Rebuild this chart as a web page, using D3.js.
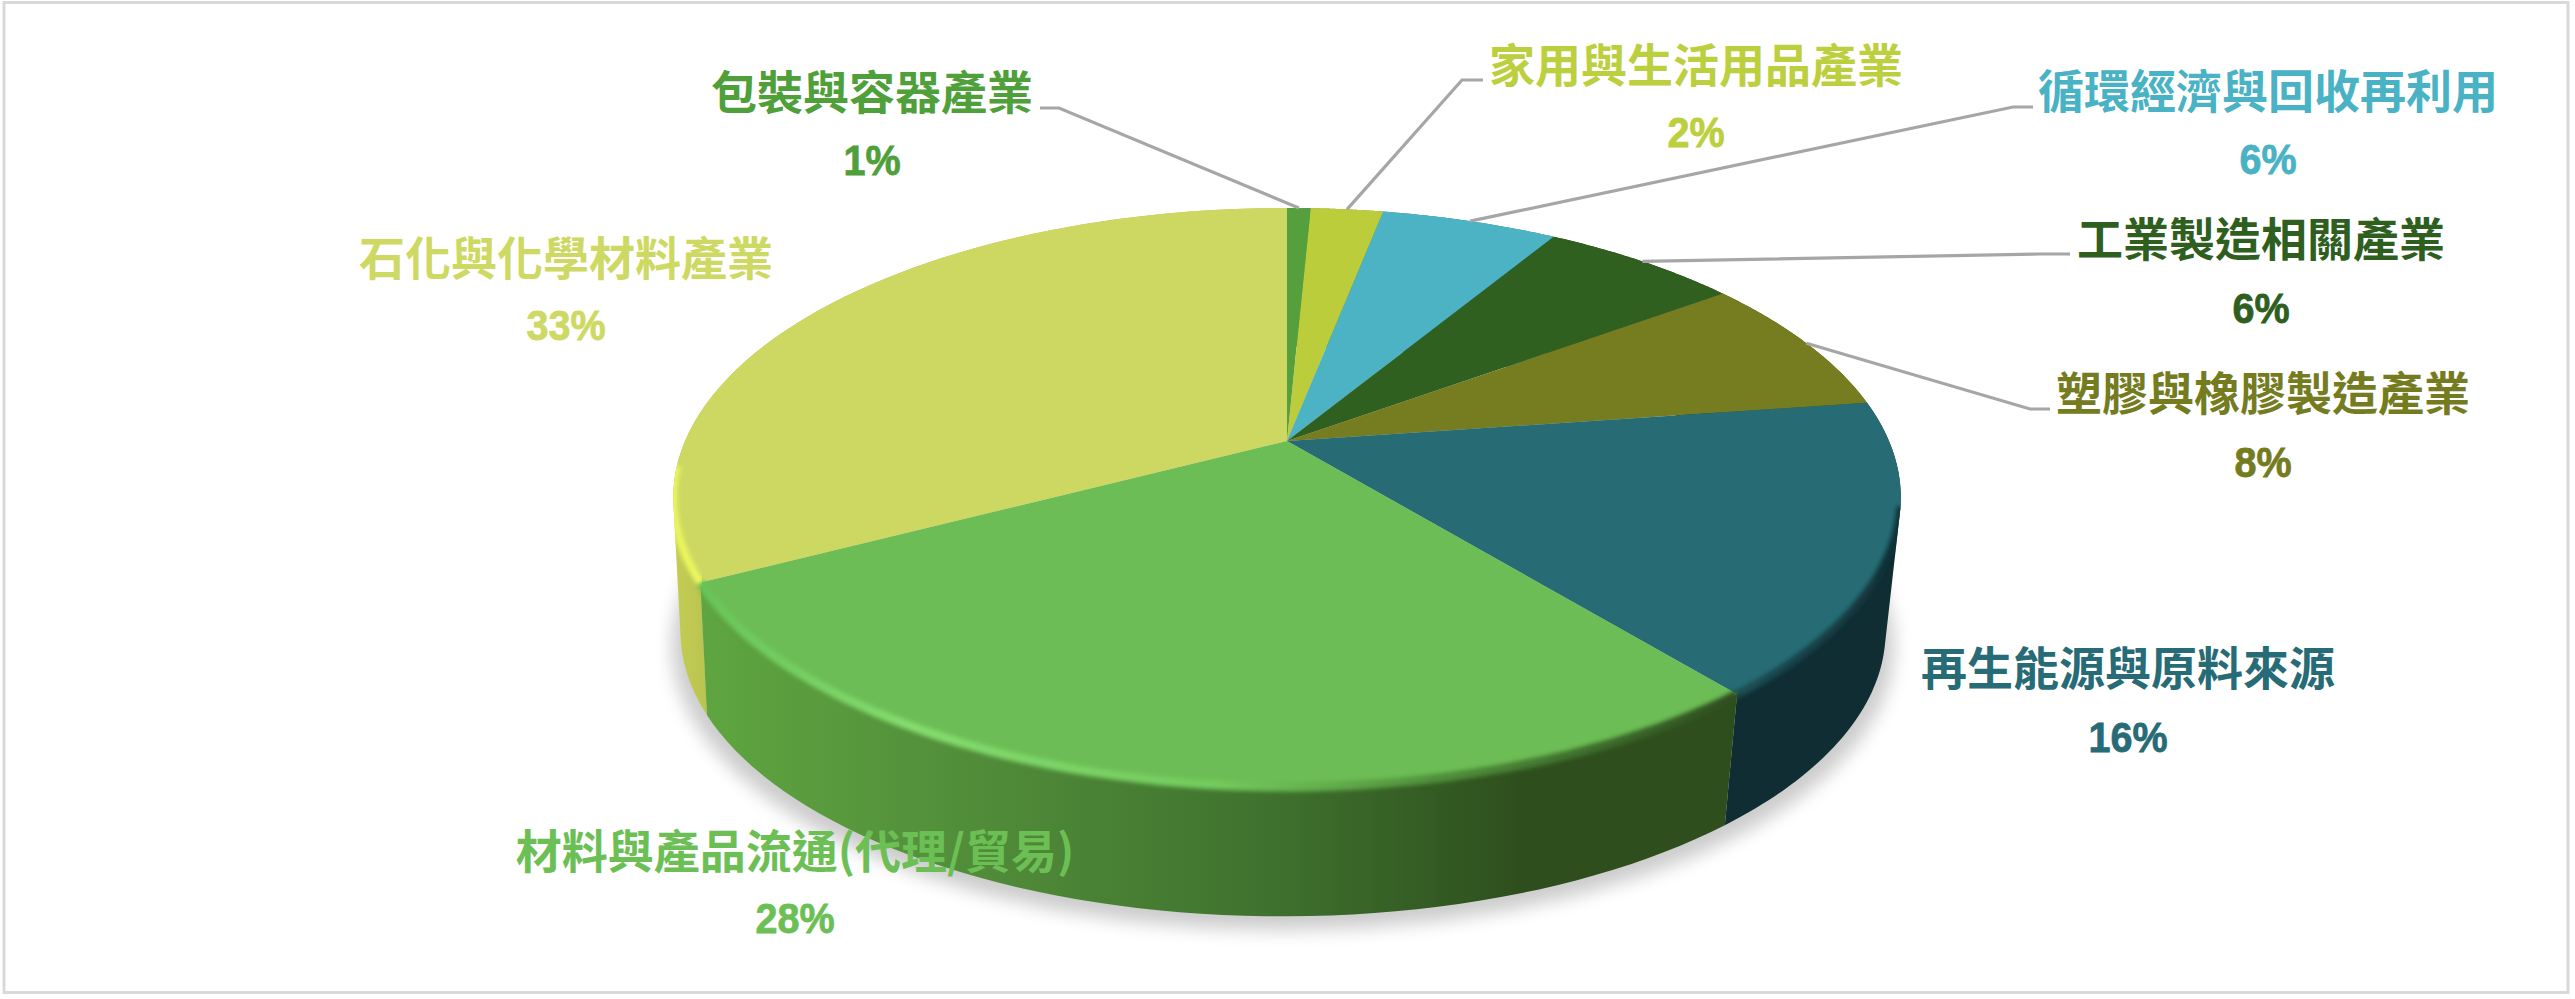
<!DOCTYPE html>
<html lang="zh-Hant"><head><meta charset="utf-8">
<script src="https://cdn.jsdelivr.net/npm/d3@7/dist/d3.min.js"></script>
<style>html,body{margin:0;background:#fff}svg{display:block}</style></head>
<body><svg id="c" width="2575" height="999"></svg>
<script>
// ---- data ----
const categories = ["包裝與容器產業","家用與生活用品產業","循環經濟與回收再利用","工業製造相關產業","塑膠與橡膠製造產業","再生能源與原料來源","材料與產品流通(代理/貿易)","石化與化學材料產業"];
const shares = [0.75,2.3,5.6,6.3,7.8,16.3,28.3,32.65];
// ---- styling ----
const topColors = ["#559f3c","#bccd3c","#4bb3c3","#30601f","#767c20","#276c75","#6cbd55","#cdd862"];
const labelColors = ["#4f9f3a","#bccf3e","#49b2c4","#2f5f1f","#757c1f","#276b76","#6cbf55","#cdd963"];
const wallFills = ["#3c7029","#8c982c","#2f7f8c","#1e3f14","#4e5214","url(#wallTeal)","url(#wallGreen)","url(#wallYellow)"];
// label centres: [x, name centre y, percent centre y]
const labelPos = [[872,92,160],[1696,65,132],[2268,91,159],[2261,239,308],[2263,393,462],[2128,668,737],[795,851,918],[566,258,325]];
// leader elbows: [text end x, elbow x, y], null = no leader
const leaders = [[1040,1059,108],[1483,1462,80],[2033,2013,107],[2070,2040,254],[2050,2030,409],null,null,null];

const svg = d3.select("#c");
const pie = d3.pie().sort(null).value(d=>d).startAngle(0).endAngle(2*Math.PI);
const arcs = pie(shares);

// perspective disc planes: top face and bottom face
const K = 0.195;
const topPlane = {cx:1287, cy:441, f:602, g:278.5};
const botPlane = {cx:1283, cy:576, f:591, g:274};
function project(p, a){
  const u = Math.sin(a), v = -Math.cos(a), w = 1 - K*v;
  return [p.cx + p.f*u/w, p.cy + p.g*v/w];
}
const samples = (a0,a1,n=60)=>d3.range(0,n+1).map(i=>a0+(a1-a0)*i/n);
const line = d3.line();
const rad = deg=>deg*Math.PI/180;

const defs = svg.append("defs");
function hGrad(id,stops,x1,x2){
  const g = defs.append("linearGradient").attr("id",id).attr("gradientUnits","userSpaceOnUse")
    .attr("x1",x1).attr("x2",x2).attr("y1",0).attr("y2",0);
  stops.forEach(s=>g.append("stop").attr("offset",s[0]).attr("stop-color",s[1]));
}
hGrad("wallGreen",[[0,"#5ea540"],[0.25,"#528e3a"],[0.55,"#3f722e"],[0.8,"#2e4f1d"],[1,"#2e4f1d"]],705,1725);
hGrad("wallTeal",[[0,"#0f2d33"],[1,"#0f2d33"]],1720,1900);
hGrad("wallYellow",[[0,"#c4ce55"],[1,"#b6c04e"]],673,715);
hGrad("rimGreen",[[0,"#68c557"],[0.2,"#84dc6e"],[0.5,"#74cb5d"],[0.72,"#4f8f3a"],[1,"#2f5020"]],705,1725);
hGrad("rimTeal",[[0,"#1c4f57"],[1,"#103036"]],1726,1900);
hGrad("rimYellow",[[0,"#eaf65e"],[1,"#eaf65e"]],673,705);
defs.append("filter").attr("id","shadow").attr("x","-10%").attr("y","-10%").attr("width","120%").attr("height","130%")
  .append("feGaussianBlur").attr("stdDeviation",9);
defs.append("filter").attr("id","soft").attr("x","-5%").attr("y","-5%").attr("width","110%").attr("height","110%")
  .append("feGaussianBlur").attr("stdDeviation",2);

// silhouette of the whole disc, used to keep the bevels inside it
const allPts = samples(0,2*Math.PI,240).flatMap(a=>[project(topPlane,a),project(botPlane,a)]);
defs.append("clipPath").attr("id","hull").append("path").attr("d",line(d3.polygonHull(allPts))+"Z");

// frame
svg.append("rect").attr("x",4).attr("y",2.5).attr("width",2564).attr("height",990)
  .attr("fill","#fff").attr("stroke","#d9d9d9").attr("stroke-width",3);

// soft ground shadow
svg.append("path")
  .attr("d",line(samples(0,2*Math.PI).map(a=>{const q=project(botPlane,a);return [botPlane.cx+(q[0]-botPlane.cx)*1.015,q[1]+14];}))+"Z")
  .attr("fill","#000").attr("opacity",0.2).attr("filter","url(#shadow)");

// side walls: one consistently wound quad per step so nothing cancels at the fold
function wallPath(d){
  const s = samples(d.startAngle,d.endAngle);
  let out = "";
  for(let i=0;i<s.length-1;i++){
    const q=[project(topPlane,s[i]),project(topPlane,s[i+1]),project(botPlane,s[i+1]),project(botPlane,s[i])];
    if(d3.polygonArea(q)<0) q.reverse();
    out += line(q)+"Z";
  }
  return out;
}
const wallOrder = [7,0,1,2,3,4,5,6];
svg.append("g").selectAll("path").data(wallOrder).join("path")
  .attr("d",i=>wallPath(arcs[i]))
  .attr("fill",i=>wallFills[i]);

// top faces
svg.append("g").selectAll("path").data(arcs).join("path")
  .attr("d",d=>line([[topPlane.cx,topPlane.cy]].concat(samples(d.startAngle,d.endAngle).map(a=>project(topPlane,a))))+"Z")
  .attr("fill",(d,i)=>topColors[i]);

// bevel highlights on the front rims
const rims = [
  {a0:rad(103),a1:arcs[5].endAngle,stroke:"url(#rimTeal)",w:8},
  {a0:arcs[6].startAngle,a1:arcs[6].endAngle,stroke:"url(#rimGreen)",w:9},
  {a0:arcs[7].startAngle,a1:rad(265),stroke:"url(#rimYellow)",w:8}];
svg.append("g").attr("clip-path","url(#hull)").selectAll("path").data(rims).join("path")
  .attr("d",r=>line(samples(r.a0,r.a1).map(a=>project(topPlane,a))))
  .attr("fill","none").attr("stroke",r=>r.stroke).attr("stroke-width",r=>r.w).attr("filter","url(#soft)");

// leaders, anchored on each slice's mid-angle
svg.append("g").selectAll("path").data(arcs.map((d,i)=>({d,l:leaders[i]})).filter(o=>o.l)).join("path")
  .attr("d",o=>line([[o.l[0],o.l[2]],[o.l[1],o.l[2]],project(topPlane,(o.d.startAngle+o.d.endAngle)/2)]))
  .attr("fill","none").attr("stroke","#a6a6a6").attr("stroke-width",3.2);

// labels
const pct = d3.format(".0f");
const lab = svg.append("g").selectAll("g").data(categories).join("g").attr("fill",(d,i)=>labelColors[i]).attr("text-anchor","middle");
lab.append("text").attr("x",(d,i)=>labelPos[i][0]).attr("y",(d,i)=>labelPos[i][1]).attr("dy","0.36em")
  .attr("font-family","'Noto Sans CJK TC','Noto Sans CJK SC',sans-serif").attr("font-weight",700).attr("font-size",46)
  .text(d=>d);
lab.append("text").attr("transform",(d,i)=>`translate(${labelPos[i][0]},${labelPos[i][2]}) scale(0.92,1)`).attr("dy","0.36em")
  .attr("font-family","'Liberation Sans',sans-serif").attr("font-weight",700).attr("font-size",43)
  .attr("stroke",(d,i)=>labelColors[i]).attr("stroke-width",0.8)
  .text((d,i)=>pct(shares[i])+"%");
</script></body></html>
